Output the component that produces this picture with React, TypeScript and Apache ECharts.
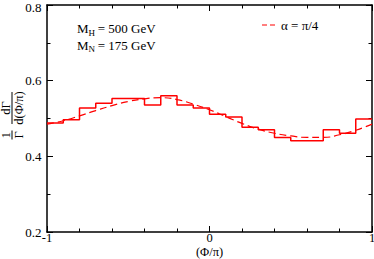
import { useEffect, useRef } from "react";
import * as echarts from "echarts";

// Histogram bin edges (Φ/π) and bin heights
const binEdges = [-1.0, -0.9, -0.8, -0.7, -0.6, -0.5, -0.4, -0.3, -0.2, -0.1, 0.0, 0.1, 0.2, 0.3, 0.4, 0.5, 0.6, 0.7, 0.8, 0.9, 1.0];
const histValues = [0.488, 0.497, 0.528, 0.540, 0.553, 0.553, 0.536, 0.560, 0.536, 0.528, 0.511, 0.504, 0.477, 0.470, 0.450, 0.441, 0.441, 0.470, 0.461, 0.499];

// Dashed analytic curve (α = π/4)
const curveX = [-1.0, -0.9, -0.8, -0.7, -0.6, -0.5, -0.4, -0.3, -0.2, -0.1, 0.0, 0.1, 0.2, 0.3, 0.4, 0.5, 0.6, 0.7, 0.8, 0.9, 1.0];
const curveY = [0.485, 0.494, 0.507, 0.521, 0.534, 0.545, 0.552, 0.555, 0.550, 0.538, 0.523, 0.505, 0.487, 0.472, 0.461, 0.454, 0.450, 0.450, 0.457, 0.469, 0.485];

const xRange = [-1, 1];
const yRange = [0.2, 0.8];
const xTickStep = 1;
const yTickStep = 0.2;

const legendLabel = "α = π/4";
const xAxisName = "(Φ/π)";

const FONT = "Liberation Serif";
const RED = "#ff0000";

export default function App() {
  const ref = useRef<HTMLDivElement>(null);
  useEffect(() => {
    if (!ref.current) return;
    const chart = echarts.init(ref.current, null, { renderer: "svg" });

    const histData = binEdges.map((e, i) => [e, histValues[Math.min(i, histValues.length - 1)]]);
    const curveData = curveX.map((x, i) => [x, curveY[i]]);

    const axisLine = { show: true, onZero: false, lineStyle: { color: "#000", width: 1.5 } };
    const txt = (text: string, x: number, y: number, size = 13, align = "left") => ({
      type: "text",
      x,
      y,
      silent: true,
      style: {
        text,
        fill: "#000",
        fontSize: size,
        fontFamily: FONT,
        align,
        textAlign: align,
        verticalAlign: "middle",
        textVerticalAlign: "middle",
      },
    });

    const makeX = (pos: "bottom" | "top", labels: boolean) => ({
      type: "value",
      position: pos,
      min: xRange[0],
      max: xRange[1],
      interval: xTickStep,
      axisLine,
      axisTick: { show: true, inside: true, length: 6, lineStyle: { color: "#000", width: 1 } },
      minorTick: { show: true, splitNumber: 5, length: 3.5, lineStyle: { color: "#000", width: 1 } },
      splitLine: { show: false },
      minorSplitLine: { show: false },
      axisLabel: {
        show: labels,
        color: "#000",
        fontSize: 12.5,
        fontFamily: FONT,
        margin: 0.5,
        lineHeight: 10,
        formatter: (v: number) => String(v),
      },
      name: labels ? xAxisName : "",
      nameLocation: "middle",
      nameGap: 13.1,
      nameMoveOverlap: false,
      nameTextStyle: { color: "#000", fontSize: 12.5, fontFamily: FONT, lineHeight: 13 },
    });

    const makeY = (pos: "left" | "right", labels: boolean) => ({
      type: "value",
      position: pos,
      min: yRange[0],
      max: yRange[1],
      interval: yTickStep,
      axisLine,
      axisTick: { show: true, inside: true, length: 6, lineStyle: { color: "#000", width: 1 } },
      minorTick: { show: true, splitNumber: 2, length: 3.5, lineStyle: { color: "#000", width: 1 } },
      splitLine: { show: false },
      minorSplitLine: { show: false },
      axisLabel: {
        show: labels,
        color: "#000",
        fontSize: 13,
        fontFamily: FONT,
        margin: 5.5,
        lineHeight: 8,
        formatter: (v: number) =>
          Math.abs(v - yRange[1]) < 1e-9 ? `{top|${v.toFixed(1)}}` : v.toFixed(1),
        rich: {
          top: { fontSize: 13, fontFamily: FONT, color: "#000", lineHeight: 8, padding: [4.6, 0, 0, 0] },
        },
      },
    });

    chart.setOption({
      animation: false,
      backgroundColor: "#fff",
      grid: { left: 47, right: 2, top: 5, bottom: 27, containLabel: false, outerBoundsMode: "none" },
      xAxis: [makeX("bottom", true), makeX("top", false)],
      yAxis: [makeY("left", true), makeY("right", false)],
      series: [
        {
          type: "line",
          name: legendLabel,
          data: curveData,
          smooth: true,
          symbol: "none",
          xAxisIndex: 0,
          yAxisIndex: 0,
          lineStyle: { color: RED, width: 1.2, type: [7, 4] },
          z: 2,
        },
        {
          type: "line",
          name: "histogram",
          data: histData,
          step: "end",
          symbol: "none",
          xAxisIndex: 0,
          yAxisIndex: 0,
          lineStyle: { color: RED, width: 1.5 },
          z: 3,
        },
      ],
      graphic: [
        // annotations
        txt("M", 77, 28.7, 13),
        txt("H", 88.6, 33, 9),
        txt(" = 500 GeV", 94.5, 28.7, 13),
        txt("M", 77, 45, 13),
        txt("N", 88.6, 49.3, 9),
        txt(" = 175 GeV", 94.5, 45, 13),
        // legend
        {
          type: "line",
          silent: true,
          shape: { x1: 262, y1: 25, x2: 277, y2: 25 },
          style: { stroke: RED, lineWidth: 1.2, lineDash: [5, 3] },
        },
        txt(legendLabel, 281, 25.5, 13),
        // y-axis label: (1/Γ) dΓ/d(Φ/π), rotated
        {
          type: "group",
          x: 12,
          y: 120,
          rotation: Math.PI / 2,
          silent: true,
          children: [
            txt("1", -15, -6.5, 12.5, "center"),
            {
              type: "line",
              shape: { x1: -19.5, y1: 0, x2: -10.5, y2: 0 },
              style: { stroke: "#000", lineWidth: 1 },
            },
            txt("Γ", -15, 7, 12.5, "center"),
            txt("dΓ", 12, -6.5, 12.5, "center"),
            {
              type: "line",
              shape: { x1: -4, y1: 0, x2: 28, y2: 0 },
              style: { stroke: "#000", lineWidth: 1 },
            },
            txt("d(Φ/π)", 12, 7, 12.5, "center"),
          ],
        },
      ],
    });

    return () => chart.dispose();
  }, []);

  return (
    <div
      ref={ref}
      style={{ position: "absolute", left: 0, top: 0, width: 374, height: 259 }}
    />
  );
}
